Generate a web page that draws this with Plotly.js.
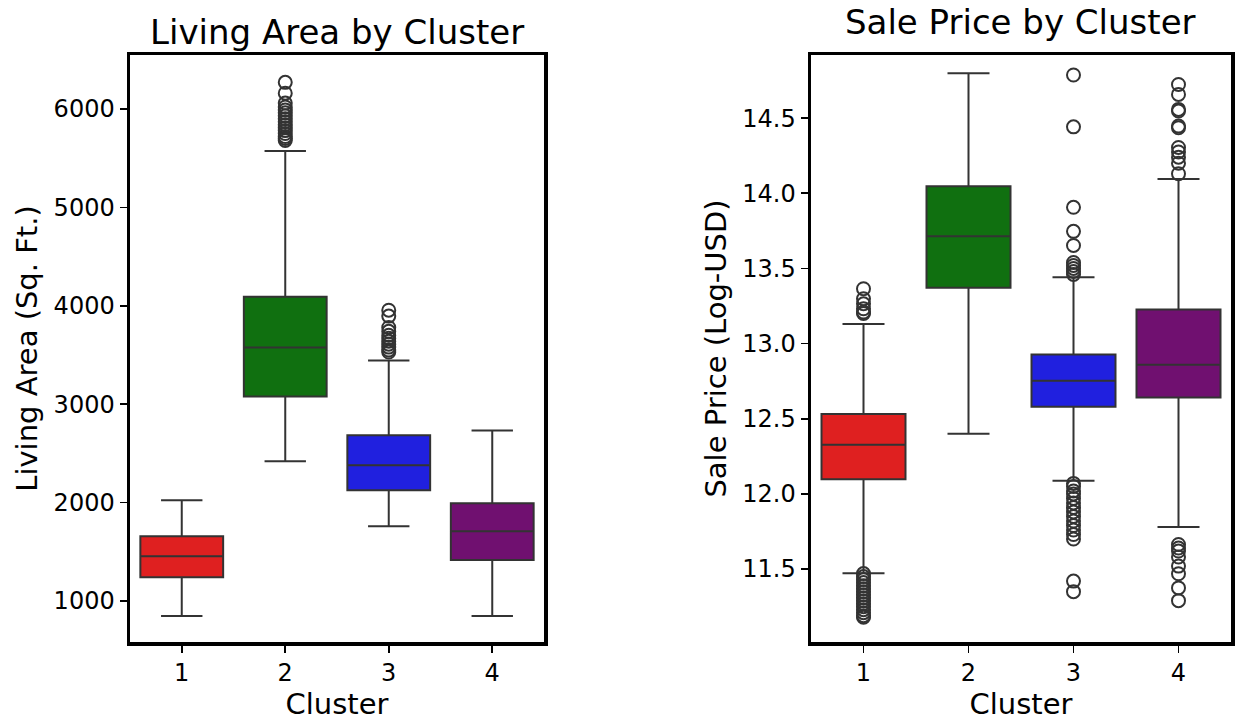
<!DOCTYPE html>
<html>
<head>
<meta charset="utf-8">
<script src="https://cdn.plot.ly/plotly-3.0.1.min.js"></script>
<style>
html,body{margin:0;padding:0;background:#fff;}
#chart{width:1235px;height:721px;}
</style>
</head>
<body>
<div id="chart"></div>
<script>
// ---- Data ----
var clusters = ['1', '2', '3', '4'];
var clusterColors = ['#df2020', '#107010', '#2020df', '#701070'];

// Living Area (Sq. Ft.)
var areaLower = [848, 2420, 1761, 848];
var areaQ1 = [1243, 3079, 2126, 1416];
var areaMedian = [1456, 3576, 2379, 1710];
var areaQ3 = [1659, 4093, 2684, 1994];
var areaUpper = [2024, 5572, 3444, 2734];
var areaOutliers1 = [];
var areaOutliers2 = [6270, 6160, 6060, 6020, 5990, 5960, 5930, 5900, 5870, 5840, 5810, 5780, 5750, 5720, 5700, 5680];
var areaOutliers3 = [3955, 3895, 3780, 3740, 3700, 3670, 3640, 3610, 3580, 3550, 3530];
var areaOutliers4 = [];

// Sale Price (Log-USD)
var priceLower = [11.473, 12.40, 12.087, 11.78];
var priceQ1 = [12.098, 13.371, 12.58, 12.642];
var priceMedian = [12.327, 13.715, 12.753, 12.86];
var priceQ3 = [12.531, 14.047, 12.927, 13.227];
var priceUpper = [13.131, 14.798, 13.442, 14.095];
var priceOutliers1 = [13.365, 13.298, 13.265, 13.232, 13.21, 13.20,
  11.47, 11.45, 11.43, 11.41, 11.39, 11.37, 11.35, 11.33, 11.31, 11.29, 11.27, 11.25, 11.23, 11.21, 11.19, 11.18];
var priceOutliers2 = [];
var priceOutliers3 = [14.787, 14.442, 13.907, 13.747, 13.653, 13.54, 13.52, 13.50, 13.48, 13.46,
  12.07, 12.05, 12.02, 12.00, 11.97, 11.94, 11.91, 11.88, 11.85, 11.82, 11.79, 11.76, 11.73, 11.70, 11.42, 11.35];
var priceOutliers4 = [14.724, 14.658, 14.558, 14.547, 14.447, 14.436, 14.305, 14.275, 14.24, 14.20, 14.13,
  11.664, 11.64, 11.62, 11.58, 11.52, 11.469, 11.375, 11.29];

var areaOutliers = [areaOutliers1, areaOutliers2, areaOutliers3, areaOutliers4];
var priceOutliers = [priceOutliers1, priceOutliers2, priceOutliers3, priceOutliers4];

// ---- Traces ----
var lineCol = '#333333';
var traces = [];
function addPanel(lo, q1, med, q3, hi, outs, xa, ya) {
  for (var i = 0; i < clusters.length; i++) {
    traces.push({
      type: 'box', x: [clusters[i]], q1: [q1[i]], median: [med[i]], q3: [q3[i]],
      lowerfence: [lo[i]], upperfence: [hi[i]],
      fillcolor: clusterColors[i], line: {color: lineCol, width: 2},
      width: 0.8, whiskerwidth: 0.5, boxpoints: false,
      xaxis: xa, yaxis: ya, showlegend: false, hoverinfo: 'skip'
    });
    if (outs[i].length) {
      traces.push({
        type: 'scatter', mode: 'markers',
        x: outs[i].map(function(){ return clusters[i]; }), y: outs[i],
        marker: {symbol: 'circle-open', size: 13, color: lineCol, line: {width: 2}},
        xaxis: xa, yaxis: ya, showlegend: false, hoverinfo: 'skip'
      });
    }
  }
}
addPanel(areaLower, areaQ1, areaMedian, areaQ3, areaUpper, areaOutliers, 'x', 'y');
addPanel(priceLower, priceQ1, priceMedian, priceQ3, priceUpper, priceOutliers, 'x2', 'y2');

// ---- Layout ----
var W = 1235, H = 721;
var fontFam = 'DejaVu Sans, sans-serif';
var ydom = [1 - 642 / H, 1 - 55 / H];
var tickSize = 24, axTitleSize = 29, titleSize = 34;
var commonX = {
  type: 'category', categoryorder: 'array', categoryarray: clusters,
  range: [-0.5, 3.5], showline: true, mirror: true, linecolor: '#000', linewidth: 3.5,
  ticks: 'outside', ticklen: 7, tickwidth: 1.6, tickcolor: '#000',
  tickfont: {size: tickSize, color: '#000', family: fontFam}, showgrid: false, zeroline: false,
  title: {text: 'Cluster', font: {size: axTitleSize, color: '#000', family: fontFam}, standoff: 4}
};
var commonY = {
  showline: true, mirror: true, linecolor: '#000', linewidth: 3.5,
  ticks: 'outside', ticklen: 7, tickwidth: 1.6, tickcolor: '#000',
  tickfont: {size: tickSize, color: '#000', family: fontFam}, showgrid: false, zeroline: false
};
var layout = {
  width: W, height: H,
  margin: {l: 0, r: 0, t: 0, b: 0},
  paper_bgcolor: '#fff', plot_bgcolor: '#fff',
  font: {family: fontFam, color: '#000'},
  showlegend: false, boxmode: 'overlay',
  xaxis: Object.assign({}, commonX, {domain: [130 / W, 544 / W], anchor: 'y'}),
  yaxis: Object.assign({}, commonY, {domain: ydom, anchor: 'x', range: [584, 6548], dtick: 1000, tick0: 0,
    title: {text: 'Living Area (Sq. Ft.)', font: {size: axTitleSize, color: '#000', family: fontFam}, standoff: 8}}),
  xaxis2: Object.assign({}, commonX, {domain: [811 / W, 1231 / W], anchor: 'y2'}),
  yaxis2: Object.assign({}, commonY, {domain: ydom, anchor: 'x2', range: [11.015, 14.92], dtick: 0.5, tick0: 0, tickformat: '.1f',
    title: {text: 'Sale Price (Log-USD)', font: {size: axTitleSize, color: '#000', family: fontFam}, standoff: 8}}),
  annotations: [
    {text: 'Living Area by Cluster', xref: 'paper', yref: 'paper', x: 337 / W, y: 1 - 32 / H,
     xanchor: 'center', yanchor: 'middle', showarrow: false, font: {size: titleSize, color: '#000', family: fontFam}},
    {text: 'Sale Price by Cluster', xref: 'paper', yref: 'paper', x: 1020 / W, y: 1 - 22 / H,
     xanchor: 'center', yanchor: 'middle', showarrow: false, font: {size: titleSize, color: '#000', family: fontFam}}
  ]
};
Plotly.newPlot('chart', traces, layout, {displayModeBar: false, staticPlot: true});
</script>
</body>
</html>
